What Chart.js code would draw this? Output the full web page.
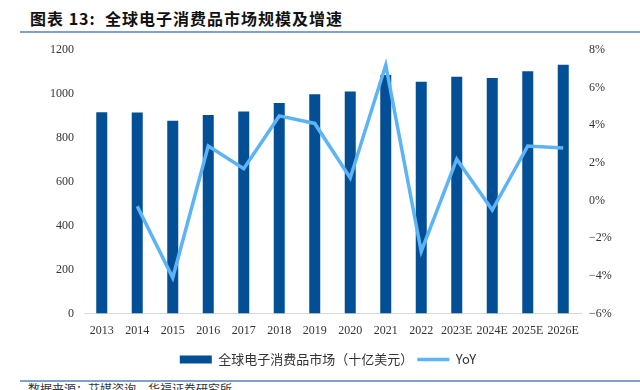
<!DOCTYPE html>
<html>
<head>
<meta charset="utf-8">
<script src="https://cdn.jsdelivr.net/npm/chart.js@4.4.0/dist/chart.umd.min.js"></script>
<style>
    body { margin: 0; width: 640px; height: 390px; overflow: hidden; background: #fff; position: relative; }
    #title {
        position: absolute; left: 30px; top: 6px; width: 610px;
        font-family: "Noto Sans CJK SC", sans-serif; font-weight: bold; font-size: 16px;
        letter-spacing: 1px; color: #111;
    }
    #title_line { position: absolute; left: 20px; right: 0; top: 31px; height: 2px; background: #7f9fcf; }
    #chart_box { position: absolute; left: 0; top: 32px; width: 640px; height: 346px; }
    #source_line { position: absolute; left: 20px; right: 0; top: 380px; height: 2px; background: #7f9fcf; }
    #source {
        position: absolute; left: 28px; top: 382px;
        font-family: "Noto Sans CJK SC", sans-serif; font-size: 12px; color: #333; line-height: 14px;
    }
</style>
</head>
<body>
<div id="title">图表 13:&nbsp;&nbsp;全球电子消费品市场规模及增速</div>
<div id="title_line"></div>
<div id="chart_box"><canvas id="visualization_div" width="640" height="346"></canvas></div>
<div id="source_line"></div>
<div id="source">数据来源：艾媒咨询，华福证券研究所</div>
<script>
    const years = ['2013', '2014', '2015', '2016', '2017', '2018', '2019', '2020', '2021',
        '2022', '2023E', '2024E', '2025E', '2026E'];
    // 全球电子消费品市场 (十亿美元)
    const market_size = [917, 915, 878, 904, 920, 959, 999, 1011, 1086, 1055, 1078, 1073, 1103, 1133];
    // YoY, %
    const yoy = [null, -0.3, -4.1, 2.9, 1.7, 4.5, 4.1, 1.2, 7.2, -2.7, 2.2, -0.5, 2.9, 2.8];

    const bar_color = '#034f95';
    const line_color = '#5cb4f6';
    const serif_font = { family: '"Liberation Serif", "Times New Roman", serif', size: 12 };

    function fixed_width(w) {
        return function (scale) { scale.width = w; };
    }

    const config = {
        type: 'bar',
        data: {
            labels: years,
            datasets: [{
                label: '全球电子消费品市场（十亿美元）',
                data: market_size,
                backgroundColor: bar_color,
                borderWidth: 0,
                barPercentage: 0.31,
                categoryPercentage: 1,
                yAxisID: 'y',
                order: 2
            }, {
                type: 'line',
                label: 'YoY',
                data: yoy,
                borderColor: line_color,
                backgroundColor: line_color,
                borderWidth: 3.5,
                pointRadius: 0,
                tension: 0,
                yAxisID: 'y1',
                order: 1
            }]
        },
        options: {
            animation: false,
            responsive: false,
            // left padding pushes the centred legend a bit right, like the original
            layout: { padding: { top: 18, bottom: 2, left: 16 } },
            plugins: {
                legend: {
                    position: 'bottom',
                    labels: {
                        usePointStyle: true,
                        pointStyleWidth: 32,
                        boxHeight: 8,
                        padding: 4,
                        color: '#333',
                        font: { family: '"Noto Sans CJK SC", sans-serif', size: 13 },
                        sort: (a, b) => a.datasetIndex - b.datasetIndex,
                        generateLabels: function (chart) {
                            return chart.data.datasets.map(function (ds, i) {
                                let is_line = ds.type === 'line';
                                return {
                                    text: ds.label,
                                    datasetIndex: i,
                                    fillStyle: is_line ? line_color : bar_color,
                                    strokeStyle: is_line ? line_color : bar_color,
                                    lineWidth: is_line ? 3.5 : 0,
                                    pointStyle: is_line ? 'line' : 'rect',
                                    fontColor: '#333'
                                };
                            });
                        }
                    }
                },
                tooltip: { enabled: false }
            },
            scales: {
                x: {
                    grid: { display: false },
                    border: { display: true, color: '#d9d9d9' },
                    ticks: { color: '#333', font: serif_font, maxRotation: 0, autoSkip: false, padding: 2 },
                    afterFit: function (scale) { scale.height += 9; }
                },
                y: {
                    position: 'left',
                    min: 0, max: 1200,
                    grid: { display: false },
                    border: { display: false },
                    ticks: {
                        stepSize: 200, color: '#333', font: serif_font, padding: 2,
                        callback: v => String(v)
                    },
                    afterFit: fixed_width(68)
                },
                y1: {
                    position: 'right',
                    min: -6, max: 8,
                    grid: { display: false },
                    border: { display: false },
                    ticks: {
                        stepSize: 2, color: '#333', font: serif_font, padding: 0,
                        callback: function (v) {
                            return (v < 0 ? '\u2212' + Math.abs(v) : v) + '%';
                        }
                    },
                    afterFit: fixed_width(59)
                }
            }
        }
    };

    new Chart(document.getElementById('visualization_div').getContext('2d'), config);
</script>
</body>
</html>
